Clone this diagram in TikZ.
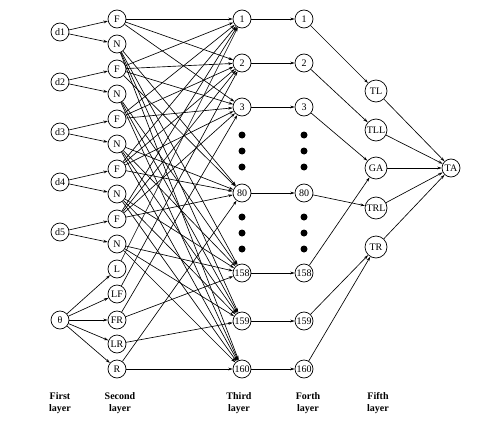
\documentclass[tikz,border=0pt]{standalone}
\usepackage{fontspec}
\setmainfont{Liberation Serif}
\usetikzlibrary{arrows.meta}
\begin{document}
\begin{tikzpicture}[x=1pt,y=-1pt,
  nd/.style={draw,circle,line width=0.7pt,inner sep=0pt,minimum size=18pt,font=\fontsize{10}{11}\selectfont},
  big/.style={nd,minimum size=22pt},
  conn/.style={line width=0.65pt,-{Stealth[length=4.5pt,width=2.8pt]}},
  lab/.style={font=\fontsize{10}{12}\selectfont\bfseries,align=center},
  dotm/.style={fill=black,circle,inner sep=0pt,minimum size=7pt}]
\useasboundingbox (0,0) rectangle (492,428);
% first layer
\node[nd] (d1) at (60,32) {d1};
\node[nd] (d2) at (60,82) {d2};
\node[nd] (d3) at (60,132) {d3};
\node[nd] (d4) at (60,182) {d4};
\node[nd] (d5) at (60,232) {d5};
\node[nd] (th) at (60,320) {θ};
% second layer
\node[nd] (F1) at (117,19) {F};
\node[nd] (N1) at (117,44) {N};
\node[nd] (F2) at (117,69) {F};
\node[nd] (N2) at (117,94) {N};
\node[nd] (F3) at (117,119) {F};
\node[nd] (N3) at (117,144) {N};
\node[nd] (F4) at (117,169) {F};
\node[nd] (N4) at (117,194) {N};
\node[nd] (F5) at (117,219) {F};
\node[nd] (N5) at (117,244) {N};
\node[nd] (L) at (117,269) {L};
\node[nd] (LF) at (117,294) {LF};
\node[nd] (FR) at (117,320) {FR};
\node[nd] (LR) at (117,344) {LR};
\node[nd] (R) at (117,369) {R};
% third layer
\node[nd] (c1) at (242,19) {1};
\node[nd] (c2) at (242,63) {2};
\node[nd] (c3) at (242,107) {3};
\node[nd] (c80) at (242,193) {80};
\node[nd] (c158) at (242,273) {158};
\node[nd] (c159) at (242,321) {159};
\node[nd] (c160) at (242,369) {160};
% fourth layer
\node[nd] (e1) at (304,19) {1};
\node[nd] (e2) at (304,63) {2};
\node[nd] (e3) at (304,107) {3};
\node[nd] (e80) at (304,193) {80};
\node[nd] (e158) at (304,273) {158};
\node[nd] (e159) at (304,321) {159};
\node[nd] (e160) at (304,369) {160};
% dots
\foreach \xx/\nm in {242/a,304/b}{
  \foreach \yy/\k in {135/1,151/2,167/3,217/4,233/5,249/6}{
    \node[dotm] (dot\nm\k) at (\xx,\yy) {};
  }
}
% fifth layer
\node[big] (TL) at (376,91) {TL};
\node[big] (TLL) at (376,130) {TLL};
\node[big] (GA) at (376,168) {GA};
\node[big] (TRL) at (376,208) {TRL};
\node[big] (TR) at (376,247) {TR};
\node[nd] (TA) at (451,168) {TA};
% labels
\node[lab] (l1) at (60,403) {First\\layer};
\node[lab] (l2) at (120,403) {Second\\layer};
\node[lab] (l3) at (239,403) {Third\\layer};
\node[lab] (l4) at (308,403) {Forth\\layer};
\node[lab] (l5) at (378,403) {Fifth\\layer};
% layer 1 -> 2
\foreach \i in {1,...,5}{
  \draw[conn] (d\i) -- (F\i);
  \draw[conn] (d\i) -- (N\i);
}
\foreach \t in {L,LF,FR,LR,R}{
  \draw[conn] (th) -- (\t);
}
% layer 2 -> 3
\foreach \t/\a/\b/\c/\d/\e/\f in {
  c1/F1/F2/F3/F4/F5/L,
  c2/F1/F2/F3/F4/F5/LF,
  c3/F1/F2/F3/F4/F5/FR,
  c80/N1/F2/N3/F4/F5/R,
  c158/N1/N2/N3/N4/N5/FR,
  c159/N1/N2/N3/N4/N5/LR,
  c160/N1/N2/N3/N4/N5/R}{
  \foreach \s in {\a,\b,\c,\d,\e,\f}{
    \draw[conn] (\s) -- (\t);
  }
}
% layer 3 -> 4
\foreach \k in {1,2,3,80,158,159,160}{
  \draw[conn] (c\k) -- (e\k);
}
% layer 4 -> 5
\draw[conn] (e1) -- (TL);
\draw[conn] (e2) -- (TLL);
\draw[conn] (e3) -- (GA);
\draw[conn] (e80) -- (TRL);
\draw[conn] (e158) -- (GA);
\draw[conn] (e159) -- (TR);
\draw[conn] (e160) -- (TR);
% layer 5 -> 6
\foreach \s in {TL,TLL,GA,TRL,TR}{
  \draw[conn] (\s) -- (TA);
}
\end{tikzpicture}
\end{document}
